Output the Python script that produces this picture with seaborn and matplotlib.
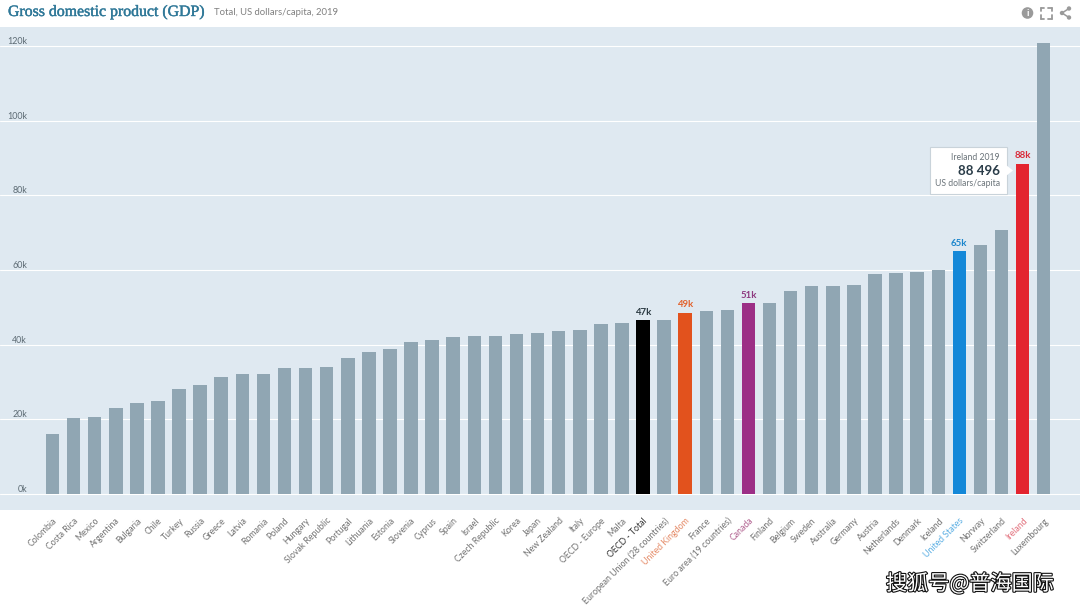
import matplotlib
matplotlib.use("Agg")
import matplotlib.pyplot as plt
import matplotlib.patheffects as pe
from matplotlib.patches import Rectangle, Ellipse, Polygon
from matplotlib.lines import Line2D
import pandas as pd
import seaborn as sns

countries = ["Colombia", "Costa Rica", "Mexico", "Argentina", "Bulgaria", "Chile", "Turkey", "Russia",
             "Greece", "Latvia", "Romania", "Poland", "Hungary", "Slovak Republic", "Portugal", "Lithuania",
             "Estonia", "Slovenia", "Cyprus", "Spain", "Israel", "Czech Republic", "Korea", "Japan",
             "New Zealand", "Italy", "OECD - Europe", "Malta", "OECD - Total", "European Union (28 countries)",
             "United Kingdom", "France", "Euro area (19 countries)", "Canada", "Finland", "Belgium", "Sweden",
             "Australia", "Germany", "Austria", "Netherlands", "Denmark", "Iceland", "United States", "Norway",
             "Switzerland", "Ireland", "Luxembourg"]
gdp_k = [16.2, 20.4, 20.7, 23.1, 24.4, 25.0, 28.2, 29.2, 31.4, 32.2, 32.2, 33.8, 33.8, 34.1, 36.5, 38.1,
         38.9, 40.6, 41.3, 42.1, 42.2, 42.4, 42.8, 43.2, 43.7, 44.0, 45.5, 45.9, 46.5, 46.7, 48.6, 49.1,
         49.3, 51.2, 51.2, 54.4, 55.6, 55.7, 56.0, 58.9, 59.2, 59.5, 60.0, 65.1, 66.7, 70.8, 88.5, 120.7]
highlight_bars = {"OECD - Total": "#000000", "United Kingdom": "#e2521d", "Canada": "#9c2f86",
                  "United States": "#1488d8", "Ireland": "#e3242f"}
highlight_labels = {"OECD - Total": ("47k", "#2b3a42"), "United Kingdom": ("49k", "#e2622d"),
                    "Canada": ("51k", "#8e3a80"), "United States": ("65k", "#1c86cc"),
                    "Ireland": ("88k", "#d92b3a")}
tick_colors = {"OECD - Total": "#333333", "United Kingdom": "#e58a66", "Canada": "#b0608f",
               "United States": "#5aaee3", "Ireland": "#e2707c"}
y_ticks = [0, 20, 40, 60, 80, 100, 120]
y_labels = ["0k", "20k", "40k", "60k", "80k", "100k", "120k"]

BAR = "#90a6b3"
sns.set_theme(style="white")
plt.rcParams["font.family"] = ["Lato", "DejaVu Sans"]

W, H = 1080, 608
fig = plt.figure(figsize=(W / 100, H / 100), dpi=100, facecolor="white")
ax = fig.add_axes([0, 1 - 510 / H, 1, 483 / H])
ax.set_facecolor("#dfe9f1")

df = pd.DataFrame({"country": countries, "gdp": gdp_k})
palette = {c: highlight_bars.get(c, BAR) for c in countries}
sns.barplot(data=df, x="country", y="gdp", hue="country", palette=palette, legend=False,
            width=0.64, saturation=1, ax=ax, order=countries, zorder=3, edgecolor="none", linewidth=0)

ax.set_xlim(-2.49, 48.72)
ax.set_ylim(-4.29, 125.1)
ax.set_xlabel("")
ax.set_ylabel("")
sns.despine(ax=ax, left=True, bottom=True, top=True, right=True)
ax.set_axisbelow(True)
ax.yaxis.grid(True, color="white", lw=0.8)
ax.set_yticks(y_ticks)
ax.set_yticklabels(y_labels, fontsize=6.4, color="#5d6b74", va="bottom")
ax.tick_params(axis="y", length=0, pad=-19.4)
ax.tick_params(axis="x", length=0, pad=4.5)
ax.set_xticks(range(len(countries)))
ax.set_xticklabels(countries, rotation=45, ha="right", rotation_mode="anchor", fontsize=6.3, color="#727272")
for lab, c in zip(ax.get_xticklabels(), countries):
    if c in tick_colors:
        lab.set_color(tick_colors[c])

for i, c in enumerate(countries):
    if c in highlight_labels:
        txt, col = highlight_labels[c]
        ax.text(i, gdp_k[i] + 0.9, txt, ha="center", va="bottom", fontsize=6.9, fontweight="bold",
                color=col, zorder=5)


def fx(x):
    return x / W


def fy(y):
    return 1 - y / H


# Header
fig.text(fx(8), fy(12), "Gross domestic product (GDP)", family="Liberation Serif", fontsize=11.4,
         color="#2f7898", va="center", ha="left",
         path_effects=[pe.withStroke(linewidth=0.3, foreground="#2f7898")])
fig.text(fx(214), fy(12.5), "Total, US dollars/capita, 2019", fontsize=6.8, color="#808080", va="center", ha="left")

# Tooltip
fig.add_artist(Rectangle((fx(930), fy(194)), 77 / W, 47 / H, transform=fig.transFigure, fc="white",
                         ec="#c9d3da", lw=0.8, zorder=6))
fig.add_artist(Polygon([(fx(1006), fy(165)), (fx(1013), fy(170.5)), (fx(1006), fy(176))],
                       transform=fig.transFigure, fc="white", ec="none", zorder=7))
fig.text(fx(1000), fy(157), "Ireland 2019", fontsize=6.2, color="#6b747a", ha="right", va="center", zorder=8)
fig.text(fx(1000), fy(171), "88 496", fontsize=9.6, fontweight="bold", color="#2b3d49", ha="right", va="center", zorder=8)
fig.text(fx(1000), fy(184), "US dollars/capita", fontsize=6.2, color="#6b747a", ha="right", va="center", zorder=8)

# Header icons
ICON = "#9a9a9a"
fig.add_artist(Ellipse((fx(1027.5), fy(13)), 11.6 / W, 11.6 / H, transform=fig.transFigure, fc=ICON, ec="none"))
fig.text(fx(1027.5), fy(13), "i", fontsize=7, fontweight="bold", color="white", ha="center", va="center")
for sx, sy in [(-1, -1), (1, -1), (-1, 1), (1, 1)]:
    cx, cy = 1046 + sx * 5.5, 13 + sy * 5.5
    fig.add_artist(Line2D([fx(cx), fx(cx - sx * 3.5)], [fy(cy), fy(cy)], color=ICON, lw=1.3, transform=fig.transFigure))
    fig.add_artist(Line2D([fx(cx), fx(cx)], [fy(cy), fy(cy - sy * 3.5)], color=ICON, lw=1.3, transform=fig.transFigure))
fig.add_artist(Line2D([fx(1069), fx(1062), fx(1069)], [fy(8.5), fy(13), fy(17.5)], color=ICON, lw=1.1,
                      transform=fig.transFigure))
for px, py in [(1069, 8.5), (1062, 13), (1069, 17.5)]:
    fig.add_artist(Ellipse((fx(px), fy(py)), 4.4 / W, 4.4 / H, transform=fig.transFigure, fc=ICON, ec="none"))

# Watermark
fig.text(fx(970), fy(584), "搜狐号@普海国际", family=["Noto Sans CJK SC", "DejaVu Sans"], fontsize=15.2,
         color="white", ha="center", va="center",
         path_effects=[pe.withStroke(linewidth=1.6, foreground="#111111")])

fig.savefig("out.png", dpi=100, facecolor="white")
